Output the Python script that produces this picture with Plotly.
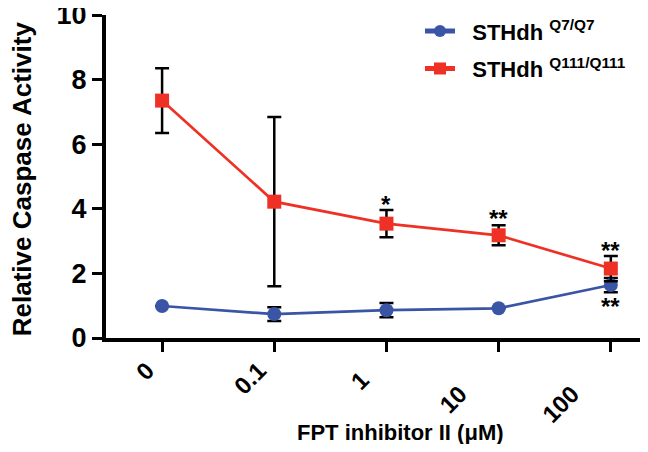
import plotly.graph_objects as go

doses = ["0", "0.1", "1", "10", "100"]

q7_mean = [0.99, 0.74, 0.86, 0.92, 1.64]
q7_err = [None, 0.21, 0.22, None, 0.22]

q111_mean = [7.35, 4.22, 3.54, 3.18, 2.15]
q111_err = [1.0, 2.62, 0.42, 0.31, 0.39]

# significance marks: (category index, y position, text)
star_x = [2, 3, 4, 4]
star_y = [4.27, 3.81, 2.82, 1.11]
star_txt = ["*", "**", "**", "**"]

# the rotated labels in the original sit a bit irregularly; pad with trailing spaces
label_pad = [0, 0, 2, 5, 5]

blue = "#3A54A6"
red = "#EE3124"
font = "Arial"

fig = go.Figure()

fig.add_trace(go.Scatter(
    x=list(range(len(doses))), y=q7_mean,
    mode="lines+markers",
    name="&nbsp;&nbsp;STHdh <sup>Q7/Q7</sup>", legendgroup="q7",
    line=dict(color=blue, width=2.7),
    marker=dict(symbol="circle", size=14, color=blue),
    error_y=dict(type="data", array=q7_err, color="black", thickness=2.5, width=7),
))

fig.add_trace(go.Scatter(
    x=list(range(len(doses))), y=q111_mean,
    mode="lines+markers",
    name="&nbsp;&nbsp;STHdh <sup>Q111/Q111</sup>", legendgroup="q111",
    line=dict(color=red, width=2.7),
    marker=dict(symbol="square", size=14, color=red),
    error_y=dict(type="data", array=q111_err, color="black", thickness=2.5, width=7),
))

for sx, sy, st in zip(star_x, star_y, star_txt):
    fig.add_annotation(x=sx, y=sy, text="<b>" + st + "</b>", showarrow=False,
                       font=dict(family=font, size=24, color="black"),
                       xanchor="center", yanchor="middle", yshift=-4)

# axis titles placed as annotations to match the reference position
fig.add_annotation(x=0.551, y=-0.294, xref="paper", yref="paper",
                   text="<b>FPT inhibitor II (μM)</b>", showarrow=False,
                   font=dict(family=font, size=22, color="black"),
                   xanchor="center", yanchor="middle")
fig.add_annotation(x=-0.157, y=0.492, xref="paper", yref="paper",
                   text="<b>Relative Caspase Activity</b>", showarrow=False,
                   textangle=-90,
                   font=dict(family=font, size=26, color="black"),
                   xanchor="center", yanchor="middle")

# page body has an 8px margin, so the figure is sized to fit inside it
fig.update_layout(
    width=632, height=436,
    margin=dict(l=98, r=0, t=7, b=106),
    plot_bgcolor="white", paper_bgcolor="white",
    showlegend=True,
    legend=dict(x=0.588, y=1.015, xanchor="left", yanchor="top",
                font=dict(family=font, size=22, color="black", weight="bold"),
                bgcolor="rgba(0,0,0,0)", itemsizing="constant",
                traceorder="grouped", tracegroupgap=6),
)

fig.update_xaxes(
    range=[-0.5, 4.26], automargin=False,
    tickmode="array", tickvals=list(range(len(doses))),
    ticktext=[d + "&nbsp;" * p for d, p in zip(doses, label_pad)],
    tickangle=-45, ticklabelshift=-15, ticklabelstandoff=-5,
    tickfont=dict(family=font, size=24, color="black", weight="bold"),
    showline=True, linecolor="black", linewidth=4,
    ticks="outside", ticklen=10, tickwidth=3, tickcolor="black",
    showgrid=False, zeroline=False,
)

fig.update_yaxes(
    range=[0, 10], tickvals=[0, 2, 4, 6, 8, 10], automargin=False,
    ticklabeloverflow="allow",
    tickfont=dict(family=font, size=27, color="black", weight="bold"),
    showline=True, linecolor="black", linewidth=4,
    ticks="outside", ticklen=10, tickwidth=3, tickcolor="black",
    showgrid=False, zeroline=False,
)

fig.write_html("out.html")
